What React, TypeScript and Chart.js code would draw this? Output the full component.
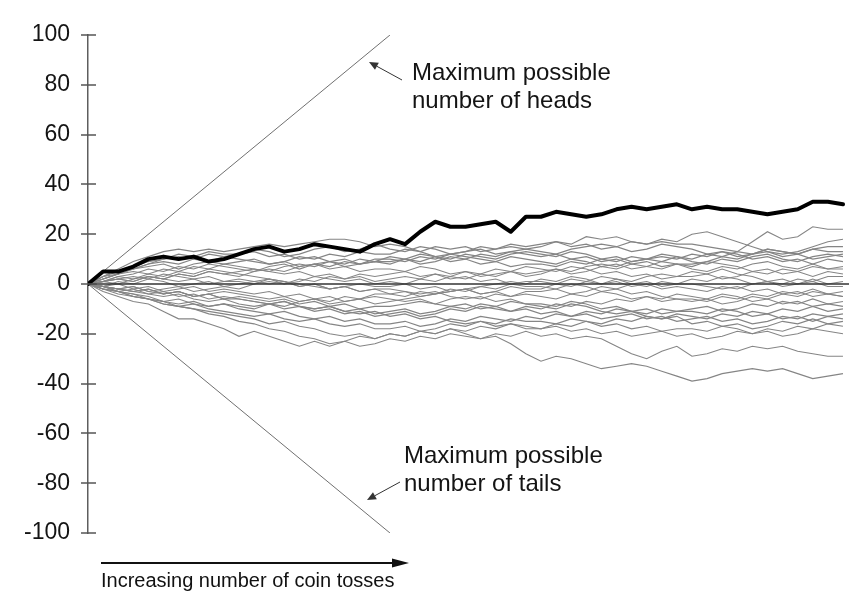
import React, { useEffect, useRef } from "react";
import { Chart, registerables } from "chart.js";

Chart.register(...registerables);

// x positions (number of tosses) at which each walk is sampled
const tosses = [0, 5, 10, 15, 20, 25, 30, 35, 40, 45, 50, 55, 60, 65, 70, 75, 80, 85, 90, 95, 100, 105, 110, 115, 120, 125, 130, 135, 140, 145, 150, 155, 160, 165, 170, 175, 180, 185, 190, 195, 200, 205, 210, 215, 220, 225, 230, 235, 240, 245, 250];

// highlighted walk (bold black)
const headsWalk = [0, 5, 5, 7, 10, 11, 10, 11, 9, 10, 12, 14, 15, 13, 14, 16, 15, 14, 13, 16, 18, 16, 21, 25, 23, 23, 24, 25, 21, 27, 27, 29, 28, 27, 28, 30, 31, 30, 31, 32, 30, 31, 30, 30, 29, 28, 29, 30, 33, 33, 32];

// grey walks
const walk01 = [0, 3, 6, 9, 11, 13, 14, 13, 14, 13, 14, 15, 16, 15, 16, 17, 18, 18, 17, 15, 16, 15, 13, 15, 14, 15, 13, 14, 15, 14, 15, 17, 16, 19, 18, 19, 17, 16, 17, 16, 16, 15, 14, 13, 17, 21, 18, 19, 23, 22, 22];
const walk02 = [0, 2, 4, 6, 7, 8, 6, 8, 9, 8, 9, 10, 8, 9, 11, 10, 12, 11, 13, 12, 12, 14, 13, 11, 12, 13, 14, 12, 13, 14, 13, 12, 14, 15, 16, 15, 17, 16, 18, 17, 20, 21, 19, 17, 15, 13, 12, 13, 15, 17, 18];
const walk03 = [0, 3, 4, 7, 9, 10, 12, 11, 13, 12, 12, 14, 13, 11, 12, 14, 15, 13, 14, 16, 14, 13, 15, 14, 12, 13, 15, 14, 16, 15, 16, 17, 15, 16, 14, 15, 13, 14, 16, 15, 14, 12, 13, 11, 12, 14, 13, 12, 14, 13, 13];
const walk04 = [0, 1, 3, 4, 6, 5, 7, 6, 8, 7, 6, 5, 7, 8, 6, 8, 9, 7, 8, 9, 8, 10, 9, 11, 10, 12, 11, 10, 12, 13, 12, 11, 13, 12, 10, 11, 9, 10, 12, 11, 9, 8, 10, 9, 11, 12, 10, 9, 11, 12, 11];
const walk05 = [0, 3, 5, 6, 8, 9, 8, 10, 9, 11, 10, 9, 8, 9, 7, 8, 6, 7, 5, 6, 6, 5, 7, 6, 4, 5, 3, 4, 5, 3, 4, 6, 5, 7, 8, 7, 9, 10, 11, 10, 12, 11, 13, 12, 10, 11, 9, 10, 8, 10, 9];
const walk06 = [0, 1, 2, 1, 3, 2, 4, 3, 5, 4, 3, 5, 6, 5, 7, 8, 7, 9, 8, 10, 10, 9, 11, 10, 12, 11, 10, 9, 11, 10, 9, 8, 10, 9, 7, 8, 6, 7, 9, 8, 6, 5, 7, 6, 8, 9, 7, 6, 8, 6, 7];
const walk07 = [0, 2, 4, 5, 4, 6, 5, 7, 6, 8, 7, 6, 5, 4, 5, 3, 4, 2, 3, 1, 2, 3, 2, 4, 3, 5, 4, 6, 5, 7, 6, 5, 7, 6, 4, 5, 3, 4, 2, 3, 3, 4, 2, 3, 5, 4, 6, 5, 3, 5, 4];
const walk08 = [0, -1, -2, -1, -3, -2, -1, -3, -2, -1, -2, 0, 1, 0, 2, 1, 3, 2, 4, 3, 4, 5, 3, 4, 2, 3, 1, 2, 0, 1, 1, 0, 2, 1, 3, 2, 0, 1, -1, 0, 2, 1, 3, 2, 0, 1, -1, 0, 2, 0, 1];
const walk09 = [0, 1, 3, 2, 4, 3, 5, 4, 6, 5, 4, 3, 2, 1, 0, -1, -2, -1, -3, -2, -4, -3, -5, -4, -3, -2, -4, -3, -1, -2, -2, 0, -1, 1, 0, 2, 1, 3, 4, 3, 5, 4, 6, 4, 3, 1, 2, 0, 1, -1, -1];
const walk10 = [0, -1, 1, 0, 2, 1, -1, 0, 1, -1, 0, 1, 2, 0, 1, 3, 2, 1, 2, 0, 1, 0, -2, -1, -3, -2, -4, -3, -5, -4, -5, -6, -4, -5, -3, -4, -6, -5, -7, -6, -6, -7, -5, -6, -4, -5, -3, -4, -2, -4, -3];
const walk11 = [0, -1, -2, -3, -2, -4, -3, -5, -4, -6, -5, -6, -7, -6, -8, -7, -9, -8, -10, -9, -9, -8, -7, -8, -6, -5, -6, -4, -5, -3, -3, -2, -4, -3, -1, -2, 0, -1, 1, 0, 0, -1, -2, -1, -3, -2, -4, -3, -5, -4, -5];
const walk12 = [0, 1, 2, 3, 2, 4, 3, 2, 3, 1, 2, 1, 0, 1, -1, 0, -2, -1, -3, -2, -2, -3, -4, -3, -5, -6, -5, -7, -6, -8, -8, -9, -7, -8, -10, -9, -11, -10, -12, -11, -10, -9, -11, -10, -8, -9, -7, -8, -6, -8, -7];
const walk13 = [0, -1, -3, -2, -4, -5, -4, -6, -7, -6, -8, -9, -8, -10, -9, -11, -10, -12, -11, -13, -12, -11, -13, -12, -10, -11, -9, -10, -11, -9, -10, -8, -9, -7, -8, -6, -7, -5, -6, -4, -5, -6, -4, -5, -7, -6, -8, -7, -9, -8, -9];
const walk14 = [0, -1, 0, -2, -1, -3, -2, -1, -3, -2, -3, -4, -3, -5, -4, -6, -5, -7, -6, -5, -6, -7, -6, -8, -9, -8, -10, -9, -11, -10, -12, -11, -13, -12, -14, -13, -12, -14, -13, -15, -14, -13, -15, -14, -16, -15, -13, -14, -12, -13, -12];
const walk15 = [0, -2, -3, -4, -5, -7, -6, -8, -9, -8, -10, -11, -12, -11, -13, -14, -13, -15, -14, -16, -16, -15, -17, -16, -14, -15, -13, -14, -15, -13, -14, -12, -13, -11, -12, -10, -11, -12, -10, -11, -11, -12, -10, -11, -13, -12, -14, -13, -15, -13, -14];
const walk16 = [0, -1, -2, -1, -3, -4, -3, -5, -4, -6, -6, -7, -8, -7, -9, -10, -9, -11, -12, -11, -13, -12, -14, -13, -15, -16, -15, -17, -16, -18, -18, -17, -19, -18, -20, -19, -21, -20, -19, -21, -20, -22, -21, -19, -20, -18, -19, -17, -18, -16, -17];
const walk17 = [0, -2, -4, -5, -6, -8, -9, -8, -10, -11, -12, -13, -12, -14, -15, -14, -16, -17, -16, -18, -18, -17, -19, -18, -16, -17, -15, -16, -14, -15, -15, -16, -14, -15, -17, -16, -18, -17, -19, -18, -18, -19, -17, -18, -20, -19, -21, -20, -18, -19, -20];
const walk18 = [0, -1, -3, -4, -6, -7, -9, -10, -12, -13, -15, -16, -18, -19, -21, -22, -24, -23, -25, -24, -22, -23, -21, -22, -20, -21, -22, -20, -21, -19, -21, -20, -22, -21, -22, -25, -28, -30, -27, -25, -29, -28, -26, -27, -25, -26, -25, -27, -28, -29, -29];
const walk19 = [0, -2, -3, -5, -6, -8, -9, -10, -11, -12, -13, -14, -16, -15, -17, -18, -20, -21, -20, -22, -20, -21, -19, -20, -18, -20, -22, -21, -24, -28, -31, -29, -30, -32, -34, -33, -32, -33, -35, -37, -39, -38, -36, -35, -34, -35, -34, -36, -38, -37, -36];
const walk20 = [0, 1, 0, 2, 3, 2, 4, 3, 5, 4, 5, 6, 5, 7, 8, 7, 9, 8, 10, 9, 11, 10, 12, 11, 9, 10, 8, 9, 7, 8, 8, 7, 9, 8, 10, 9, 11, 10, 9, 11, 10, 12, 11, 13, 12, 14, 13, 12, 14, 15, 15];
const walk21 = [0, -3, -5, -7, -8, -11, -14, -14, -16, -18, -21, -19, -21, -23, -25, -23, -25, -23, -21, -22, -20, -21, -19, -20, -18, -19, -17, -18, -16, -17, -18, -16, -17, -15, -16, -14, -15, -13, -14, -12, -13, -14, -12, -13, -11, -12, -10, -11, -9, -11, -10];
const walk22 = [0, -1, -2, -3, -2, -4, -3, -5, -4, -3, -4, -5, -6, -5, -7, -6, -8, -7, -6, -8, -7, -6, -5, -4, -3, -2, -1, 0, 1, 0, 2, 1, 3, 2, 0, 1, -1, 0, -2, -1, -2, -3, -1, -2, 0, 1, 0, 2, 1, 3, 3];
const walk23 = [0, 2, 4, 6, 8, 10, 11, 10, 12, 11, 12, 13, 11, 12, 10, 11, 9, 10, 8, 9, 9, 10, 8, 9, 11, 10, 12, 11, 13, 12, 11, 12, 10, 11, 9, 10, 8, 9, 7, 8, 8, 9, 11, 10, 12, 13, 11, 12, 10, 11, 12];
const walk24 = [0, -2, -3, -5, -6, -7, -8, -7, -9, -8, -9, -10, -8, -9, -7, -6, -7, -5, -6, -4, -4, -5, -3, -4, -2, -3, -1, -2, 0, -1, -1, -2, 0, -1, -3, -2, -4, -3, -5, -6, -7, -6, -8, -7, -5, -6, -4, -5, -3, -4, -5];
const walk25 = [0, 1, 2, 1, 3, 2, 1, 2, 0, 1, 1, 0, 2, 1, -1, 0, -2, -1, 0, -1, -1, 0, 2, 1, 3, 2, 4, 3, 5, 4, 5, 6, 4, 5, 7, 6, 8, 7, 6, 8, 7, 9, 8, 7, 5, 6, 4, 5, 7, 6, 6];
const walk26 = [0, -1, -2, -3, -4, -3, -5, -4, -6, -5, -6, -7, -8, -7, -9, -10, -9, -11, -10, -12, -11, -10, -12, -11, -9, -10, -8, -9, -7, -8, -9, -10, -8, -9, -11, -12, -11, -13, -14, -13, -16, -15, -17, -16, -18, -17, -15, -16, -14, -16, -15];

const greyWalks = [walk01, walk02, walk03, walk04, walk05, walk06, walk07, walk08, walk09, walk10, walk11, walk12, walk13, walk14, walk15, walk16, walk17, walk18, walk19, walk20, walk21, walk22, walk23, walk24, walk25, walk26];

// boundary lines: maximum possible heads / tails
const boundaryTosses = [0, 100];
const maxHeads = [0, 100];
const maxTails = [0, -100];
const zeroTosses = [0, 252];
const zeroValues = [0, 0];

const yTicks = [-100, -80, -60, -40, -20, 0, 20, 40, 60, 80, 100];

const FONT = '"Liberation Sans", Arial, Helvetica, sans-serif';

function drawArrow(ctx: CanvasRenderingContext2D, x1: number, y1: number, x2: number, y2: number, headLen: number, headHalf: number, lw: number, color: string) {
  const ang = Math.atan2(y2 - y1, x2 - x1);
  const bx = x2 - headLen * Math.cos(ang);
  const by = y2 - headLen * Math.sin(ang);
  ctx.save();
  ctx.strokeStyle = color;
  ctx.fillStyle = color;
  ctx.lineWidth = lw;
  ctx.beginPath();
  ctx.moveTo(x1, y1);
  ctx.lineTo(bx, by);
  ctx.stroke();
  ctx.beginPath();
  ctx.moveTo(x2, y2);
  ctx.lineTo(bx + headHalf * Math.sin(ang), by - headHalf * Math.cos(ang));
  ctx.lineTo(bx - headHalf * Math.sin(ang), by + headHalf * Math.cos(ang));
  ctx.closePath();
  ctx.fill();
  ctx.restore();
}

const decorPlugin = {
  id: "decor",
  afterDraw(chart: any) {
    const ctx: CanvasRenderingContext2D = chart.ctx;
    const ys = chart.scales.y;
    const left = chart.chartArea.left;
    ctx.save();
    // tick marks crossing the axis
    ctx.strokeStyle = "#555";
    ctx.lineWidth = 1.5;
    yTicks.forEach((v) => {
      const py = Math.round(ys.getPixelForValue(v));
      ctx.beginPath();
      ctx.moveTo(left - 7, py);
      ctx.lineTo(left + 8, py);
      ctx.stroke();
    });

    // annotations
    ctx.fillStyle = "#141414";
    ctx.textBaseline = "alphabetic";
    ctx.textAlign = "left";
    ctx.font = `24px ${FONT}`;
    ctx.fillText("Maximum possible", 412, 80);
    ctx.fillText("number of heads", 412, 108);
    ctx.fillText("Maximum possible", 404, 463);
    ctx.fillText("number of tails", 404, 491);
    drawArrow(ctx, 402, 80, 369, 62, 9, 4, 1, "#333");
    drawArrow(ctx, 400, 482, 367, 500, 9, 4, 1, "#333");

    // x direction arrow and label
    drawArrow(ctx, 101, 563, 409, 563, 17, 4.5, 2, "#111");
    ctx.fillStyle = "#111";
    ctx.font = `20px ${FONT}`;
    ctx.fillText("Increasing number of coin tosses", 101, 587);
    ctx.restore();
  },
};

export default function App() {
  const ref = useRef<HTMLCanvasElement | null>(null);

  useEffect(() => {
    document.body.style.margin = "0";
    const canvas = ref.current;
    if (!canvas) return;
    const pts = (xs: number[], vals: number[]) => vals.map((v, i) => ({ x: xs[i], y: v }));

    const datasets: any[] = [];
    greyWalks.forEach((w) => {
      datasets.push({ data: pts(tosses, w), borderColor: "#858585", borderWidth: 1.1, pointRadius: 0, order: 4 });
    });
    datasets.push({ data: pts(boundaryTosses, maxHeads), borderColor: "#707070", borderWidth: 1, pointRadius: 0, order: 3 });
    datasets.push({ data: pts(boundaryTosses, maxTails), borderColor: "#707070", borderWidth: 1, pointRadius: 0, order: 3 });
    datasets.push({ data: pts(zeroTosses, zeroValues), borderColor: "#333", borderWidth: 1.4, pointRadius: 0, order: 2 });
    datasets.push({ data: pts(tosses, headsWalk), borderColor: "#000", borderWidth: 4, pointRadius: 0, order: 0, borderJoinStyle: "round", borderCapStyle: "round" });

    const chart = new Chart(canvas, {
      type: "line",
      data: { datasets },
      plugins: [decorPlugin],
      options: {
        responsive: false,
        animation: false,
        devicePixelRatio: 1,
        layout: { padding: { left: 0, right: 17, top: 35, bottom: 82 } },
        plugins: { legend: { display: false }, tooltip: { enabled: false } },
        elements: { line: { tension: 0 }, point: { radius: 0 } },
        scales: {
          x: { type: "linear", min: 0, max: 252, display: false },
          y: {
            type: "linear",
            min: -100,
            max: 100,
            afterFit: (s: any) => {
              s.width = 88;
            },
            ticks: { stepSize: 20, padding: 18, color: "#141414", font: { family: FONT, size: 23 } },
            grid: { display: false, drawTicks: false, tickLength: 0 },
            border: { display: true, color: "#5e5e5e", width: 1.5 },
          },
        },
      } as any,
    });
    return () => chart.destroy();
  }, []);

  return (
    <div style={{ width: 866, height: 615, position: "relative", background: "#fff" }}>
      <canvas ref={ref} width={866} height={615} style={{ display: "block", width: 866, height: 615 }} />
    </div>
  );
}
